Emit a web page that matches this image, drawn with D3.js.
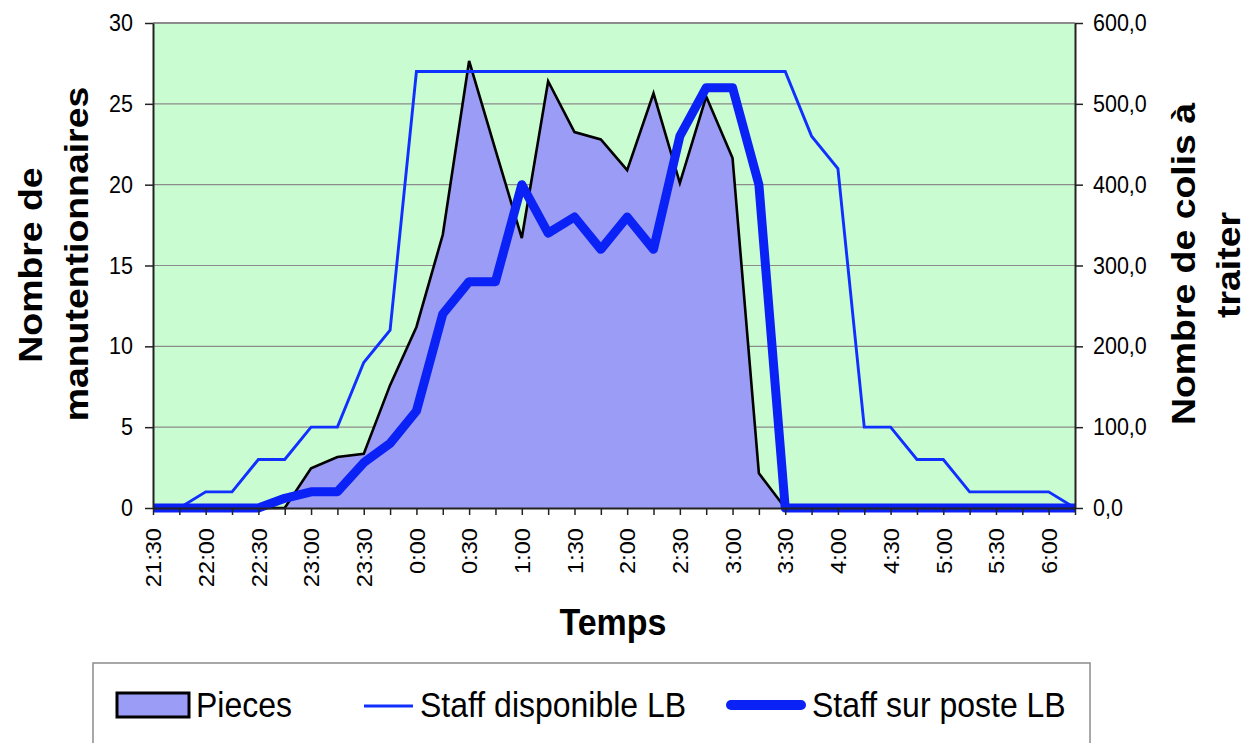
<!DOCTYPE html>
<html>
<head>
<meta charset="utf-8">
<script src="https://cdn.jsdelivr.net/npm/d3@7"></script>
<style>
  html, body { margin: 0; padding: 0; background: #fff; }
  svg text { font-family: "Liberation Sans", Arial, sans-serif; fill: #000; }
</style>
</head>
<body>
<svg id="chart" width="1247" height="743"></svg>
<script>
// ---- Data ----
const times = ["21:30","21:45","22:00","22:15","22:30","22:45","23:00","23:15","23:30","23:45",
               "0:00","0:15","0:30","0:45","1:00","1:15","1:30","1:45","2:00","2:15",
               "2:30","2:45","3:00","3:15","3:30","3:45","4:00","4:15","4:30","4:45",
               "5:00","5:15","5:30","5:45","6:00","6:15"];
const pieces = [0,0,0,0,0,0,49,63,67,152,
                224,338,553,443,334,528,465,456,418,513,
                402,509,433,43,0,0,0,0,0,0,
                0,0,0,0,0,0];
const staffDisponible = [0,0,1,1,3,3,5,5,9,11,
                         27,27,27,27,27,27,27,27,27,27,
                         27,27,27,27,27,23,21,5,5,3,
                         3,1,1,1,1,0];
const staffSurPoste = [0,0,0,0,0,0.6,1,1,2.8,4,
                       6,12,14,14,20,17,18,16,18,16,
                       23,26,26,20,0,0,0,0,0,0,
                       0,0,0,0,0,0];
const leftTicks = [0,5,10,15,20,25,30];
const rightTicks = [0,100,200,300,400,500,600];
const legendLabels = ["Pieces","Staff disponible LB","Staff sur poste LB"];

// ---- Layout ----
const svg = d3.select("#chart");
const L = 153, R = 1075, T = 23, B = 508;
const SY = 1.1; // vertical stretch of text in the reference

const x = d3.scalePoint().domain(times).range([L, R]);
const yL = d3.scaleLinear().domain([0, 30]).range([B, T]);
const yR = d3.scaleLinear().domain([0, 600]).range([B, T]);

// plot background
svg.append("rect").attr("x", L).attr("y", T).attr("width", R - L).attr("height", B - T)
   .attr("fill", "#c9fcd0");

// gridlines
svg.append("g").selectAll("line").data(leftTicks.filter(d => d > 0 && d < 30)).join("line")
   .attr("x1", L).attr("x2", R).attr("y1", d => yL(d)).attr("y2", d => yL(d))
   .attr("stroke", "#8c8c8c").attr("stroke-width", 1.2);
// top border
svg.append("line").attr("x1", L).attr("x2", R).attr("y1", T).attr("y2", T)
   .attr("stroke", "#8c8c8c").attr("stroke-width", 2);

// pieces area (right axis)
const area = d3.area().x((d, i) => x(times[i])).y0(B).y1(d => yR(d));
svg.append("path").datum(pieces).attr("d", area).attr("fill", "#9b9cf5");
const pline = d3.line().x((d, i) => x(times[i])).y(d => yR(d));
svg.append("path").datum(pieces).attr("d", pline).attr("fill", "none")
   .attr("stroke", "#000").attr("stroke-width", 2.6).attr("stroke-linejoin", "miter");

// staff lines (left axis)
const sline = d3.line().x((d, i) => x(times[i])).y(d => yL(d));
svg.append("path").datum(staffDisponible).attr("d", sline).attr("fill", "none")
   .attr("stroke", "#1030ff").attr("stroke-width", 2.9);
svg.append("path").datum(staffSurPoste).attr("d", sline).attr("fill", "none")
   .attr("stroke", "#0a22f5").attr("stroke-width", 9).attr("stroke-linejoin", "round");

// ---- Axes ----
function styleAxis(g) {
  g.select(".domain").attr("stroke", "#222").attr("stroke-width", 2);
  g.selectAll(".tick line").attr("stroke", "#222").attr("stroke-width", 1.5);
  g.selectAll("text").style("font-size", "21.5px");
}

const axL = svg.append("g").attr("transform", `translate(${L},0)`)
   .call(d3.axisLeft(yL).tickValues(leftTicks).tickSize(8).tickPadding(12).tickSizeOuter(0));
styleAxis(axL);
axL.selectAll(".tick text").attr("transform", `scale(1,${SY})`);

const fmtR = d => d3.format(".1f")(d).replace(".", ",");
const axR = svg.append("g").attr("transform", `translate(${R},0)`)
   .call(d3.axisRight(yR).tickValues(rightTicks).tickFormat(fmtR).tickSize(8).tickPadding(10).tickSizeOuter(0));
styleAxis(axR);
axR.selectAll(".tick text").attr("transform", `scale(1,${SY})`);

const axB = svg.append("g").attr("transform", `translate(0,${B})`)
   .call(d3.axisBottom(x).tickSize(7).tickSizeOuter(0)
     .tickFormat((d, i) => (i % 2 === 0 && i < times.length - 1) ? d : ""));
styleAxis(axB);
axB.selectAll(".tick text")
   .attr("x", 0).attr("y", 0).attr("dy", "0.36em")
   .attr("transform", `translate(0,20) scale(1,${SY}) rotate(-90)`)
   .style("text-anchor", "end");

// ---- Titles ----
function title(txt, tx, ty, rot) {
  svg.append("text").text(txt)
     .attr("transform", `translate(${tx},${ty}) scale(1,${SY})` + (rot ? " rotate(-90)" : ""))
     .attr("text-anchor", "middle")
     .style("font-size", "34px").style("font-weight", "bold");
}
title("Nombre de", 42, 265, true);
title("manutentionnaires", 88, 254, true);
title("Nombre de colis à", 1195, 264, true);
title("traiter", 1240, 265, true);
title("Temps", 613, 635, false);

// ---- Legend ----
svg.append("rect").attr("x", 93).attr("y", 663).attr("width", 997).attr("height", 100)
   .attr("fill", "#fff").attr("stroke", "#8c8c8c").attr("stroke-width", 1.5);
const lg = svg.append("g");
lg.append("rect").attr("x", 117).attr("y", 693).attr("width", 72).attr("height", 24)
  .attr("fill", "#9b9cf5").attr("stroke", "#000").attr("stroke-width", 3);
lg.append("line").attr("x1", 364).attr("x2", 413).attr("y1", 706).attr("y2", 706)
  .attr("stroke", "#1030ff").attr("stroke-width", 2.9);
lg.append("line").attr("x1", 731).attr("x2", 801).attr("y1", 705).attr("y2", 705)
  .attr("stroke", "#0a22f5").attr("stroke-width", 10).attr("stroke-linecap", "round");
const lx = [196, 420, 812];
legendLabels.forEach((t, i) => {
  lg.append("text").text(t)
    .attr("transform", `translate(${lx[i]},717) scale(1,${SY})`)
    .style("font-size", "32px");
});
</script>
</body>
</html>
